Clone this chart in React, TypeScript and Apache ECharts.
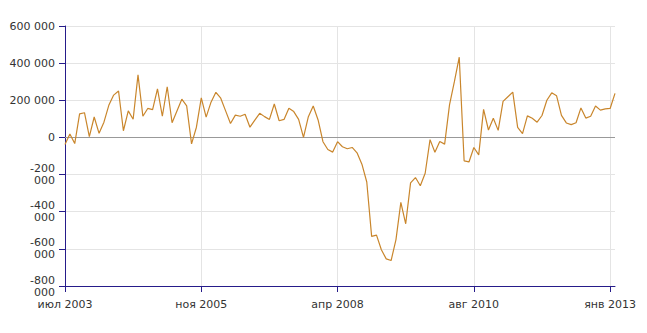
import React, { useEffect, useRef } from "react";
import * as echarts from "echarts";

const values: number[] = [
  -38000, 18000, -33000, 127000, 133000, 4000, 110000, 22000, 82000, 173000,
  228000, 250000, 36000, 143000, 98000, 337000, 114000, 156000, 150000, 262000,
  114000, 273000, 79000, 142000, 206000, 170000, -35000, 55000, 213000, 109000,
  190000, 243000, 211000, 143000, 75000, 120000, 114000, 125000, 55000, 93000,
  130000, 112000, 97000, 180000, 90000, 97000, 157000, 139000, 97000, 0,
  112000, 169000, 94000, -23000, -65000, -79000, -23000, -50000, -61000, -54000,
  -83000, -144000, -240000, -533000, -526000, -605000, -654000, -663000, -550000, -350000,
  -465000, -245000, -216000, -260000, -193000, -12000, -80000, -22000, -36000, 175000,
  300000, 432000, -126000, -132000, -54000, -94000, 151000, 40000, 103000, 38000,
  194000, 219000, 244000, 54000, 20000, 116000, 103000, 82000, 118000, 200000,
  240000, 224000, 119000, 78000, 69000, 79000, 159000, 104000, 114000, 169000,
  147000, 154000, 156000, 237000,
];

const tickLabels: string[] = ["июл 2003", "ноя 2005", "апр 2008", "авг 2010", "янв 2013"];
const tickStep = 28;
const categories: string[] = values.map((_, i) => String(i));

const yMin = -800000;
const yMax = 600000;
const yStep = 200000;

const FONT = "'DejaVu Sans', Verdana, sans-serif";
const AXIS = "#261c8a";

function fmtY(v: number): string {
  const abs = Math.abs(v);
  const th = Math.floor(abs / 1000);
  const rest = abs % 1000;
  if (v === 0) return "0";
  const s = th > 0 ? th + " " + String(rest).padStart(3, "0") : String(rest);
  if (v < 0) return "-" + s.replace(" ", "\n");
  return s;
}

export default function App() {
  const ref = useRef<HTMLDivElement>(null);
  useEffect(() => {
    if (!ref.current) return;
    const chart = echarts.init(ref.current, undefined, { renderer: "svg" });
    chart.setOption({
      animation: false,
      backgroundColor: "#ffffff",
      grid: { left: 65, right: 32, top: 26, bottom: 47, containLabel: false },
      xAxis: {
        type: "category",
        data: categories,
        boundaryGap: false,
        axisLine: { show: true, onZero: false, lineStyle: { color: AXIS, width: 1 } },
        axisTick: {
          show: true,
          interval: tickStep - 1,
          length: 6,
          lineStyle: { color: AXIS },
        },
        axisLabel: {
          interval: tickStep - 1,
          margin: 13,
          color: "#333333",
          fontFamily: FONT,
          fontSize: 11,
          formatter: (_v: string, idx: number) => tickLabels[Math.round(idx / tickStep)] ?? "",
        },
        splitLine: {
          show: true,
          interval: tickStep - 1,
          lineStyle: { color: "#e4e4e4", width: 1 },
        },
      },
      yAxis: {
        type: "value",
        min: yMin,
        max: yMax,
        interval: yStep,
        axisLine: { show: true, lineStyle: { color: AXIS, width: 1 } },
        axisTick: { show: true, length: 6, lineStyle: { color: AXIS } },
        axisLabel: {
          margin: 10,
          color: "#333333",
          fontFamily: FONT,
          fontSize: 11,
          lineHeight: 12,
          formatter: (v: number) => fmtY(v),
        },
        splitLine: { show: true, lineStyle: { color: "#e4e4e4", width: 1 } },
      },
      series: [
        {
          type: "line",
          data: values,
          symbol: "none",
          lineStyle: { color: "#c9862c", width: 1.2 },
          itemStyle: { color: "#c9862c" },
          z: 3,
          markLine: {
            silent: true,
            symbol: "none",
            label: { show: false },
            lineStyle: { color: "#999999", width: 1.2, type: "solid" },
            data: [{ yAxis: 0 }],
            z: 2,
          },
        },
      ],
    });
    return () => chart.dispose();
  }, []);
  return (
    <div
      ref={ref}
      style={{ position: "fixed", left: 0, top: 0, width: 647, height: 333 }}
    />
  );
}
